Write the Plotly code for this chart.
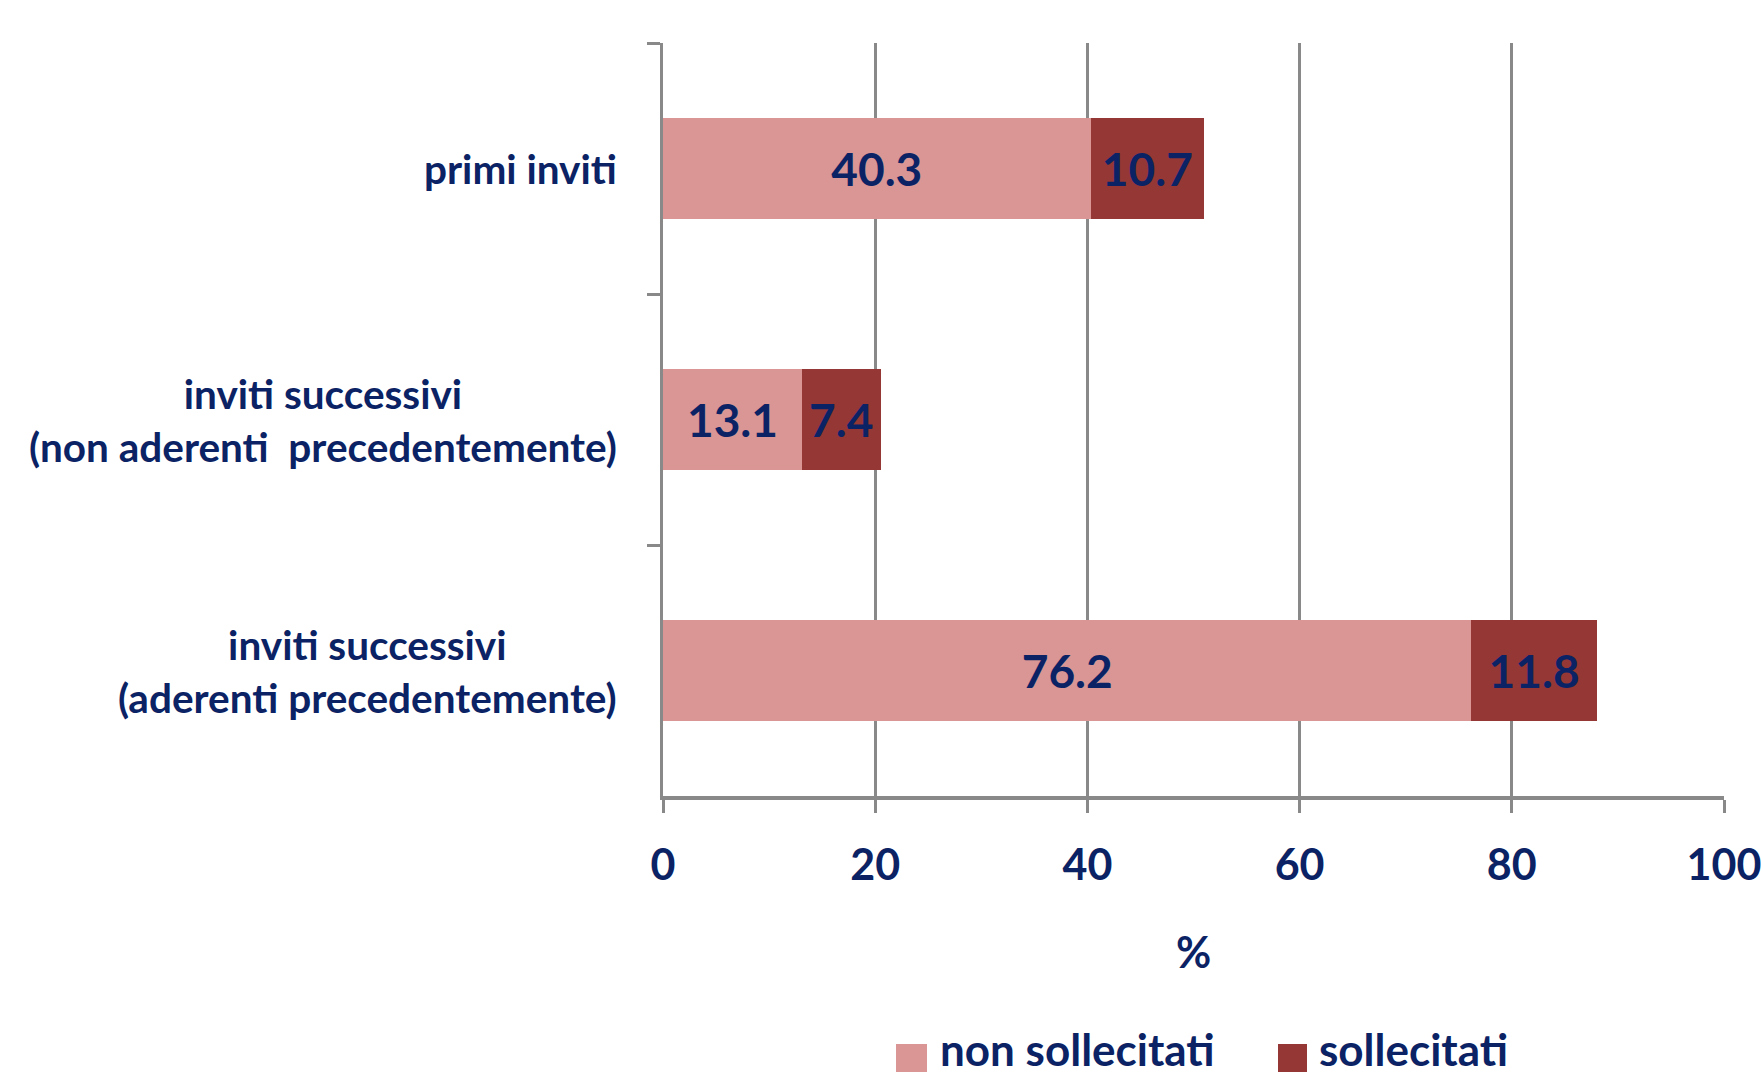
import plotly.graph_objects as go

categories = ["primi inviti",
              "inviti successivi<br>(non aderenti  precedentemente)",
              "inviti successivi<br>(aderenti precedentemente)"]
series_names = ["non sollecitati", "sollecitati"]
non_sollecitati = [40.3, 13.1, 76.2]
sollecitati = [10.7, 7.4, 11.8]
x_ticks = [0, 20, 40, 60, 80, 100]

NAVY = "#0B2365"
PINK = "#D99694"
DARKRED = "#953735"
GRID = "#898989"
FONT = "Lato"

W, H = 1762, 1076
L, R, T, B = 663, 38, 43, 280
pw, ph = W - L - R, H - T - B

def px_x(p):
    return (p - L) / pw

def px_y(p):
    return (H - B - p) / ph

cat_ids = [str(i) for i in range(len(categories))]

fig = go.Figure()
for name, vals, col in [(series_names[0], non_sollecitati, PINK),
                        (series_names[1], sollecitati, DARKRED)]:
    fig.add_trace(go.Bar(
        y=cat_ids, x=vals, orientation="h", name=name,
        marker=dict(color=col, line=dict(width=0)),
        width=0.4,
        text=[f"{v:.1f}" for v in vals],
        textposition="inside", insidetextanchor="middle",
        constraintext="none",
        textfont=dict(family=FONT, size=46, color=NAVY, weight="bold"),
        showlegend=False, hoverinfo="skip",
    ))

annotations = []
for cid, lab in zip(cat_ids, categories):
    annotations.append(dict(
        x=px_x(619), xref="paper", y=cid, yref="y",
        xanchor="right", yanchor="middle", align="center",
        text=lab, showarrow=False,
        font=dict(family=FONT, size=40.5, color=NAVY, weight="bold"),
    ))

# legend drawn manually for large swatches
shapes = []
leg = [(series_names[0], PINK, 896, 927, 938), (series_names[1], DARKRED, 1278, 1307, 1317)]
for name, col, x0, x1, tx in leg:
    shapes.append(dict(type="rect", xref="paper", yref="paper",
                       x0=px_x(x0), x1=px_x(x1), y0=px_y(1072), y1=px_y(1044),
                       fillcolor=col, line=dict(width=0)))
    annotations.append(dict(
        x=px_x(tx), xref="paper", y=px_y(1049), yref="paper",
        xanchor="left", yanchor="middle", text=name, showarrow=False,
        font=dict(family=FONT, size=44, color=NAVY, weight="bold"),
    ))

fig.update_layout(
    width=W, height=H,
    margin=dict(l=L, r=R, t=T, b=B, pad=0, autoexpand=False),
    paper_bgcolor="white", plot_bgcolor="white",
    barmode="stack",
    showlegend=False,
    annotations=annotations,
    shapes=shapes,
    font=dict(family=FONT, color=NAVY),
)
fig.update_xaxes(
    range=[0, 100], tickvals=x_ticks, ticktext=[str(t) for t in x_ticks],
    showgrid=True, gridcolor=GRID, gridwidth=3,
    showline=True, linecolor=GRID, linewidth=4,
    ticks="outside", ticklen=13, tickwidth=3, tickcolor=GRID,
    zeroline=False, automargin=False,
    ticklabelstandoff=15,
    tickfont=dict(family=FONT, size=43, color=NAVY, weight="bold"),
    title=dict(text="%", standoff=51,
               font=dict(family=FONT, size=43, color=NAVY, weight="bold")),
)
fig.update_yaxes(
    type="category", categoryorder="array", categoryarray=cat_ids,
    autorange="reversed",
    showticklabels=False, showgrid=False,
    showline=True, linecolor=GRID, linewidth=3,
    ticks="outside", ticklen=13, tickwidth=3, tickcolor=GRID,
    tickson="boundaries",
    zeroline=False, automargin=False,
)

fig.write_html("out.html")
